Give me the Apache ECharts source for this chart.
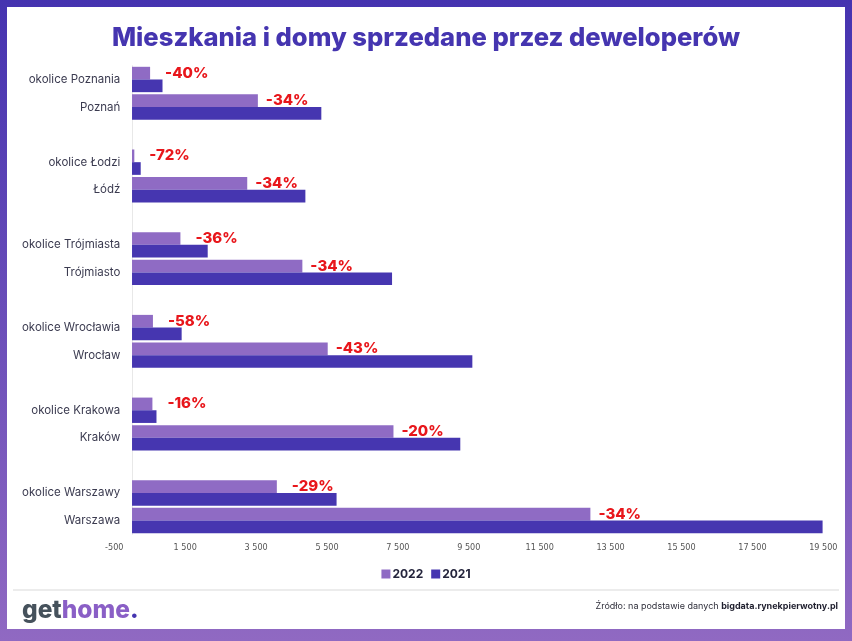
<!DOCTYPE html>
<html>
<head>
<meta charset="utf-8">
<script src="https://cdn.jsdelivr.net/npm/echarts@6/dist/echarts.min.js"></script>
<style>
  html, body { margin: 0; padding: 0; background: #fff; }
  #chart { width: 852px; height: 641px; }
</style>
</head>
<body>
<div id="chart"></div>
<script>
// ---- Data ----
const categories = ['okolice Poznania', 'Poznań', 'okolice Łodzi', 'Łódź', 'okolice Trójmiasta', 'Trójmiasto',
  'okolice Wrocławia', 'Wrocław', 'okolice Krakowa', 'Kraków', 'okolice Warszawy', 'Warszawa'];
const sales2022 = [510, 3550, 65, 3250, 1365, 4805, 590, 5520, 575, 7375, 4085, 12930];
const sales2021 = [860, 5340, 245, 4890, 2135, 7335, 1400, 9600, 690, 9260, 5770, 19480];
const changeLabels = ['-40%', '-34%', '-72%', '-34%', '-36%', '-34%', '-58%', '-43%', '-16%', '-20%', '-29%', '-34%'];
const seriesNames = ['2022', '2021'];
const xTicks = { min: -500, max: 19500, step: 2000 };

// ---- Build axis with gaps between region pairs ----
const axisCats = [], d22 = [], d21 = [], lab = [];
categories.forEach((c, i) => {
  if (i > 0 && i % 2 === 0) {
    axisCats.push(' '.repeat(i / 2)); d22.push(null); d21.push(null); lab.push('');
  }
  axisCats.push(c);
  d22.push({
    value: sales2022[i],
    label: { distance: c.indexOf('okolice') === 0 ? 15 : 8 }
  });
  d21.push(sales2021[i]);
  lab.push(changeLabels[i]);
});

const fmt = v => {
  const s = Math.abs(v).toString();
  const parts = [];
  for (let i = s.length; i > 0; i -= 3) parts.unshift(s.slice(Math.max(0, i - 3), i));
  return (v < 0 ? '-' : '') + parts.join(' ');
};

const chart = echarts.init(document.getElementById('chart'), null, { renderer: 'canvas' });
const FONT = 'Inter, "Noto Sans", sans-serif';

chart.setOption({
  animation: false,
  backgroundColor: 'transparent',
  title: {
    text: 'Mieszkania i domy sprzedane przez deweloperów',
    left: 'center',
    top: 20,
    textStyle: { fontFamily: FONT, fontSize: 25.6, fontWeight: 800, color: '#4535b0' }
  },
  graphic: [
    {
      type: 'rect', z: -100, silent: true,
      shape: { x: 0, y: 0, width: 852, height: 641 },
      style: {
        fill: new echarts.graphic.LinearGradient(0, 0, 0, 1, [
          { offset: 0, color: '#4533b0' },
          { offset: 1, color: '#9069c2' }
        ])
      }
    },
    {
      type: 'rect', z: -99, silent: true,
      shape: { x: 7, y: 7, width: 838, height: 622 },
      style: { fill: '#ffffff' }
    },
    {
      type: 'line', z: -98, silent: true,
      shape: { x1: 13, y1: 590, x2: 839, y2: 590 },
      style: { stroke: '#ececec', lineWidth: 2 }
    },
    {
      type: 'text', left: 22, top: 598, silent: true,
      style: {
        text: '{g|get}{h|home}{d|.}',
        rich: {
          g: { fontFamily: FONT, fontSize: 24.5, fontWeight: 800, fill: '#46525c' },
          h: { fontFamily: FONT, fontSize: 24.5, fontWeight: 800, fill: '#8a5fc6' },
          d: { fontFamily: FONT, fontSize: 24.5, fontWeight: 800, fill: '#4535b0' }
        }
      }
    },
    {
      type: 'text', right: 14, top: 602, silent: true,
      style: {
        text: '{n|Źródło: na podstawie danych }{b|bigdata.rynekpierwotny.pl}',
        rich: {
          n: { fontFamily: FONT, fontSize: 9, fill: '#2e2e3a' },
          b: { fontFamily: FONT, fontSize: 9, fontWeight: 'bold', fill: '#1f1f2e' }
        }
      }
    }
  ],
  legend: {
    data: seriesNames,
    top: 563,
    left: 'center',
    icon: 'rect',
    itemWidth: 9,
    itemHeight: 9,
    itemGap: 8,
    textStyle: { fontFamily: FONT, fontSize: 12, fontWeight: 'bold', color: '#24243c', padding: [0, 0, 0, -3] }
  },
  grid: { left: 114.3, right: 28.7, top: 65.7, bottom: 106.7, containLabel: false },
  xAxis: {
    type: 'value',
    min: xTicks.min,
    max: xTicks.max,
    interval: xTicks.step,
    splitLine: { show: false },
    axisLine: { show: false },
    axisTick: { show: false },
    axisLabel: {
      formatter: fmt,
      fontFamily: '"Liberation Sans Narrow", "DejaVu Sans Condensed", "Liberation Sans", sans-serif',
      fontSize: 9,
      color: '#555',
      margin: 9
    }
  },
  yAxis: {
    type: 'category',
    inverse: true,
    data: axisCats,
    axisLine: { show: true, lineStyle: { color: '#e8e8e8', width: 1 } },
    axisTick: { show: false },
    axisLabel: { fontFamily: FONT, fontSize: 11.5, color: '#3b3b50', margin: -6 }
  },
  series: [
    {
      name: seriesNames[0],
      type: 'bar',
      data: d22,
      barGap: '0%',
      barCategoryGap: '8%',
      itemStyle: { color: '#8f6bc4' },
      label: {
        show: true,
        position: 'right',
        formatter: p => lab[p.dataIndex],
        fontFamily: FONT,
        fontSize: 15,
        fontWeight: 800,
        color: '#e8161b'
      }
    },
    {
      name: seriesNames[1],
      type: 'bar',
      data: d21,
      barGap: '0%',
      barCategoryGap: '8%',
      itemStyle: { color: '#4636b0' }
    }
  ]
});
</script>
</body>
</html>
